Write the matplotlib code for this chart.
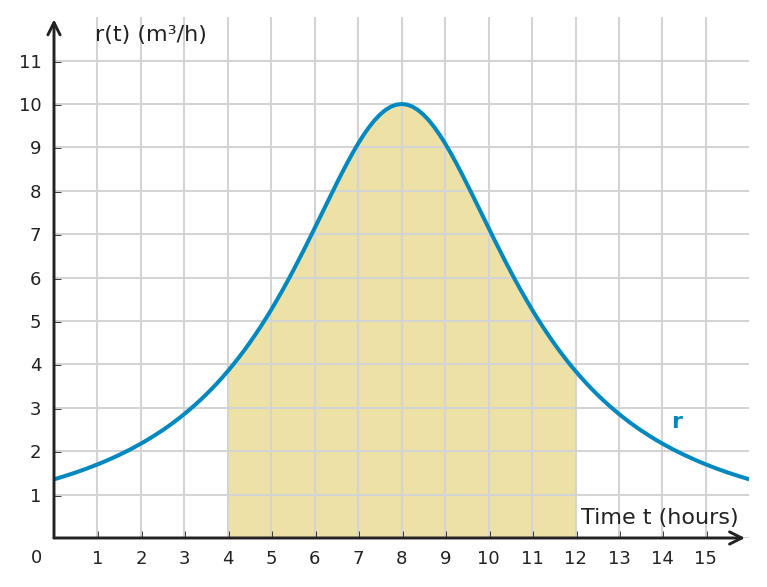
import matplotlib.pyplot as plt
import numpy as np

plt.rcParams['font.family'] = 'DejaVu Sans'
plt.rcParams['font.size'] = 13

# r(t), every eighth of an hour from t=0 up to the peak at t=8;
# the curve is symmetric about t=8
t = np.arange(0, 16.001, 0.125)
r_left = [1.351, 1.389, 1.427, 1.468, 1.509, 1.553, 1.598, 1.646, 1.695, 1.746,
          1.800, 1.856, 1.914, 1.975, 2.038, 2.105, 2.174, 2.246, 2.322, 2.402,
          2.484, 2.571, 2.662, 2.757, 2.857, 2.962, 3.071, 3.186, 3.306, 3.432,
          3.563, 3.702, 3.846, 3.997, 4.156, 4.321, 4.494, 4.675, 4.863, 5.059,
          5.263, 5.475, 5.694, 5.920, 6.154, 6.394, 6.639, 6.889, 7.143, 7.399,
          7.655, 7.911, 8.163, 8.410, 8.648, 8.876, 9.091, 9.289, 9.467, 9.624,
          9.756, 9.861, 9.938, 9.984]
r = np.array(r_left + [10.0] + r_left[::-1])

shade_from = 4
shade_to = 12
x_ticks = list(range(1, 16))
y_ticks = list(range(1, 12))

ink = '#222222'
blue = '#0088bf'
fill_col = '#ede1a6'
grid_col = '#d4d4d4'

fig = plt.figure(figsize=(7.67, 5.87), dpi=100)
ax = fig.add_axes([0.0704, 0.0835, 0.9066, 0.8872])
ax.set_xlim(0, 16)
ax.set_ylim(0, 12)

mask = (t >= shade_from) & (t <= shade_to)
ax.fill_between(t[mask], 0, r[mask], color=fill_col, lw=0, zorder=1)

ax.vlines(x_ticks, 0, 12, color=grid_col, lw=1.5, zorder=2)
ax.hlines(y_ticks, 0, 16, color=grid_col, lw=1.5, zorder=2)
ax.hlines([0], 0, 16, color=grid_col, lw=1.5, zorder=2)

ax.plot(t, r, color=blue, lw=2.9, zorder=4, solid_capstyle='butt')

for s in ax.spines.values():
    s.set_visible(False)

arrow = dict(arrowstyle='->', lw=2.1, color=ink, mutation_scale=22,
             shrinkA=0, shrinkB=0)
ax.annotate('', xy=(15.9, 0), xytext=(0, 0), arrowprops=arrow, zorder=5)
ax.annotate('', xy=(0, 11.95), xytext=(0, 0), arrowprops=arrow, zorder=5)

ax.set_xticks(x_ticks)
ax.set_yticks(y_ticks)
ax.tick_params(direction='in', length=5, width=2, color=ink,
               labelcolor=ink, labelsize=13, pad=9)
ax.text(-0.4, -0.45, '0', ha='center', va='center', color=ink, fontsize=13)

ax.text(0.94, 11.6, 'r(t) (m³/h)', ha='left', va='center', color=ink, fontsize=16)
ax.text(12.12, 0.46, 'Time t (hours)', ha='left', va='center', color=ink,
        fontsize=16)
ax.text(14.33, 2.67, 'r', ha='center', va='center', color=blue,
        fontsize=16, fontweight='bold')

fig.savefig('out.png', dpi=100)
